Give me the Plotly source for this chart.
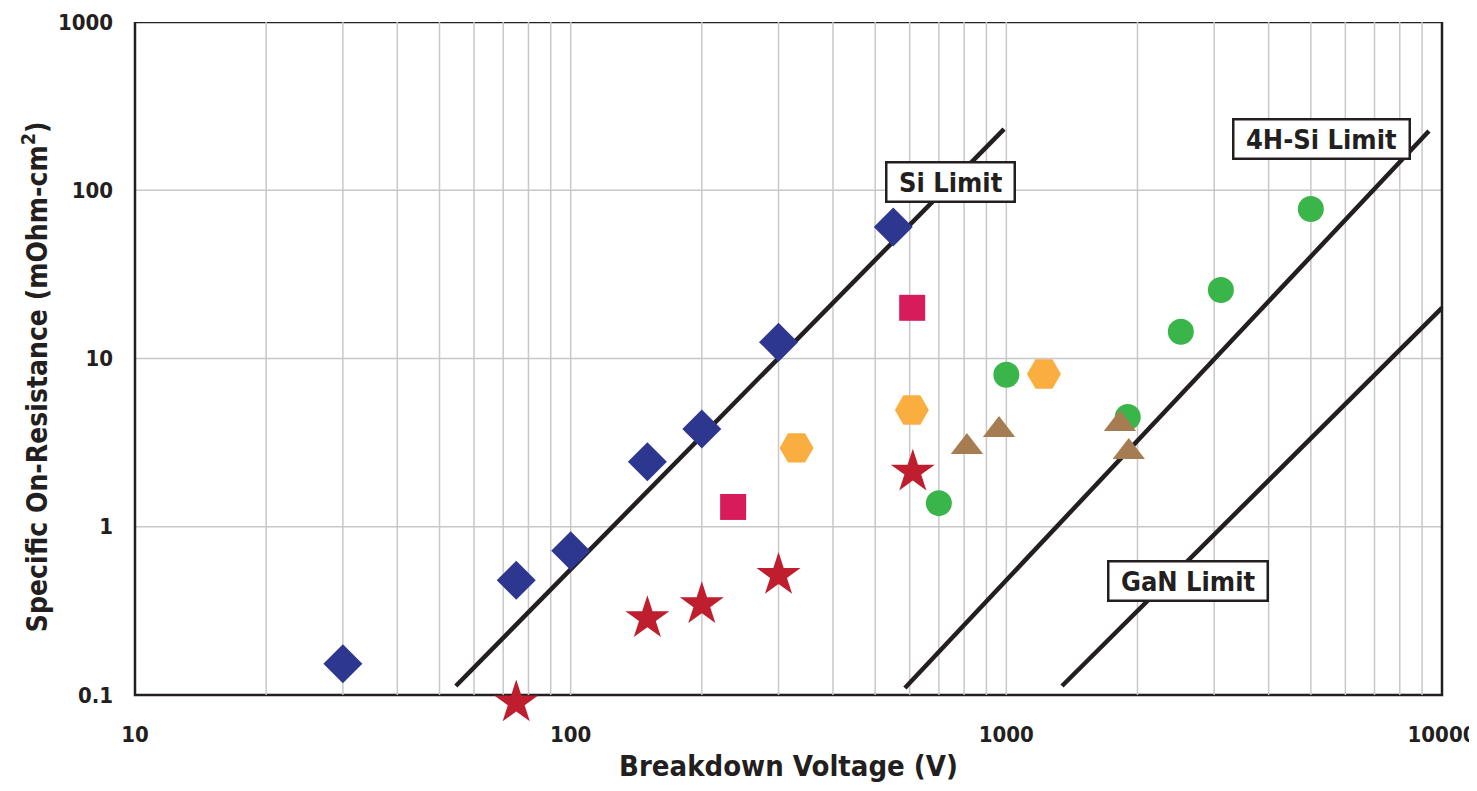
import plotly.graph_objects as go

# ---- data ----
si_v = [30, 75, 100, 150, 200, 300, 550]
si_r = [0.153, 0.48, 0.72, 2.43, 3.81, 12.5, 60.5]

star_v = [75, 150, 200, 300, 610]
star_r = [0.09, 0.285, 0.345, 0.515, 2.12]

sq_v = [236, 608]
sq_r = [1.31, 20]

hex_v = [330, 607, 1220]
hex_r = [2.94, 4.94, 8.09]

gan_v = [700, 1000, 1900, 2515, 3108, 5000]
gan_r = [1.38, 8.0, 4.49, 14.4, 25.5, 77.4]

tri_v = [812, 962, 1823, 1910]
tri_r = [2.98, 3.76, 4.08, 2.78]

si_lim_v = [54.5, 988]
si_lim_r = [0.113, 231]
sic_lim_v = [585, 9333]
sic_lim_r = [0.110, 225]
gan_lim_v = [1342, 10000]
gan_lim_r = [0.113, 20]

x_ticks = [10, 100, 1000, 10000]
y_ticks = [0.1, 1, 10, 100, 1000]
y_labels = ["0.1", "1", "10", "100", "1000"]
x_minor = [m * d for d in [10, 100, 1000] for m in range(2, 10)]

FONT = "DejaVu Sans Condensed, DejaVu Sans, sans-serif"
INK = "#231F20"
GRID = "#C8C8C8"

fig = go.Figure()

for xs, ys in [(si_lim_v, si_lim_r), (sic_lim_v, sic_lim_r), (gan_lim_v, gan_lim_r)]:
    fig.add_trace(go.Scatter(x=xs, y=ys, mode="lines",
                             line=dict(color=INK, width=4.5), showlegend=False,
                             hoverinfo="skip"))

def pts(xs, ys, symbol, color, size):
    fig.add_trace(go.Scatter(x=xs, y=ys, mode="markers", showlegend=False, cliponaxis=False,
                             marker=dict(symbol=symbol, color=color, size=size,
                                         line=dict(width=0))))

pts(si_v, si_r, "diamond", "#2E3790", 30)
pts(star_v, star_r, "star", "#BE1E2D", 33)
pts(sq_v, sq_r, "square", "#D81B5A", 26)
pts(hex_v, hex_r, "hexagon2", "#FBAE40", 34)
pts(gan_v, gan_r, "circle", "#39B54A", 26)
pts(tri_v, tri_r, "triangle-up", "#A67C52", 28)

# grid lines limited to the 0.1..1000 frame
ylo, yhi = y_ticks[0], y_ticks[-1]
for v in x_minor + x_ticks[1:-1]:
    fig.add_shape(type="line", xref="x", yref="y", x0=v, x1=v,
                  y0=ylo, y1=yhi, line=dict(color=GRID, width=1.5), layer="below")
for v in y_ticks[1:-1]:
    fig.add_shape(type="line", xref="x domain", yref="y", x0=0, x1=1,
                  y0=v, y1=v, line=dict(color=GRID, width=1.5), layer="below")
fig.add_shape(type="rect", xref="x domain", yref="y", x0=0, x1=1, y0=ylo, y1=yhi,
              line=dict(color=INK, width=2.5), layer="below")

def label(text, x, y):
    fig.add_annotation(x=x, y=y, xref="paper", yref="paper",
                       xanchor="center", yanchor="middle",
                       text="<b>&nbsp;" + text + "&nbsp;</b>",
                       showarrow=False, font=dict(family=FONT, size=27, color=INK),
                       bgcolor="white", bordercolor=INK, borderwidth=2.5, borderpad=3)

label("Si Limit", 0.6236, 0.766)
label("4H-Si Limit", 0.908, 0.8287)
label("GaN Limit", 0.8053, 0.1816)

# y-axis title placed as rotated text
fig.add_annotation(x=-0.0765, y=0.48, xref="paper", yref="paper", textangle=-90,
                   text="<b>Specific On-Resistance (mOhm-cm<sup>2</sup>)</b>", showarrow=False,
                   font=dict(family=FONT, size=28, color=INK), xanchor="center", yanchor="middle")

# page body has an 8px default margin; figure sized to fit the window
fig.update_layout(
    width=1469, height=775,
    margin=dict(l=127, r=35, t=14, b=78),
    paper_bgcolor="white", plot_bgcolor="white",
    font=dict(family=FONT, color=INK),
)
fig.update_xaxes(type="log", range=[1, 4], tickvals=x_ticks,
                 ticktext=["<b>%d</b>" % v for v in x_ticks],
                 tickfont=dict(size=22, family=FONT, color=INK),
                 showgrid=False, showline=False, ticks="", zeroline=False, automargin=False,
                 ticklabelstandoff=14, ticklabeloverflow="allow",
                 title=dict(text="<b>Breakdown Voltage (V)</b>", font=dict(size=29, family=FONT, color=INK),
                            standoff=21))
fig.update_yaxes(type="log", range=[-1.06, 3], tickvals=y_ticks,
                 ticktext=["<b>%s</b>" % t for t in y_labels],
                 tickfont=dict(size=22, family=FONT, color=INK),
                 showgrid=False, showline=False, ticks="", zeroline=False, ticklabelstandoff=21,
                 automargin=False, ticklabeloverflow="allow")

fig.write_html("out.html")
